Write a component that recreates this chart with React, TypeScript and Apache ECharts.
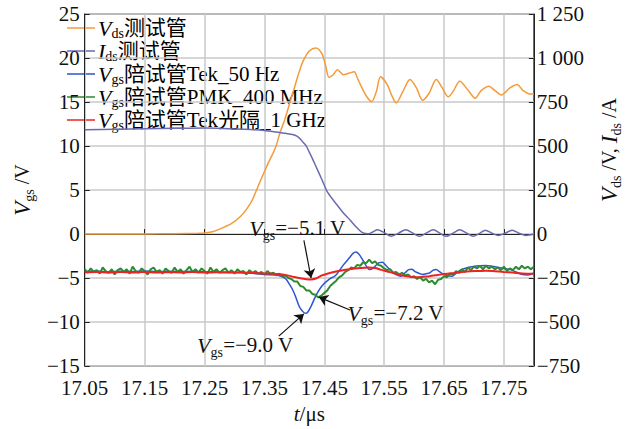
import React, { useEffect, useRef } from 'react';
import * as echarts from 'echarts';

// ---------- data ----------
const xLabelValues = [17.05, 17.15, 17.25, 17.35, 17.45, 17.55, 17.65, 17.75];

const seriesNames = [
  'Vds测试管',
  'Ids测试管',
  'Vgs陪试管Tek_50 Hz',
  'Vgs陪试管PMK_400 MHz',
  'Vgs陪试管Tek光隔_1 GHz',
];

// Vds (V, right axis)
const vdsData: [number, number][] = [
  [17.05, 0], [17.1, 1], [17.15, 1], [17.2, 2], [17.24, 4], [17.25, 6], [17.265, 15], [17.28, 35],
  [17.296, 62], [17.31, 100], [17.32, 140], [17.33, 195], [17.343, 300], [17.356, 400], [17.369, 495],
  [17.376, 575], [17.384, 650], [17.392, 740], [17.4, 830], [17.408, 920], [17.415, 985], [17.425, 1040],
  [17.436, 1057], [17.446, 1025], [17.452, 960], [17.458, 890], [17.465, 905], [17.472, 933], [17.482, 905],
  [17.492, 915], [17.5, 922], [17.506, 880], [17.513, 830], [17.521, 780], [17.529, 752], [17.537, 810],
  [17.544, 893], [17.555, 850], [17.563, 785], [17.57, 745], [17.582, 815], [17.593, 878], [17.604, 830],
  [17.614, 760], [17.625, 800], [17.637, 878], [17.647, 830], [17.657, 780], [17.666, 815], [17.676, 868],
  [17.69, 818], [17.702, 772], [17.712, 815], [17.725, 840], [17.735, 815], [17.746, 790], [17.76, 830],
  [17.772, 850], [17.782, 815], [17.795, 795], [17.8, 795],
];

// Ids (A, right axis)
const idsData: [number, number][] = [
  [17.05, 592], [17.1, 595], [17.15, 598], [17.2, 601], [17.25, 602], [17.28, 600], [17.317, 595],
  [17.35, 588], [17.369, 580], [17.385, 572], [17.397, 566], [17.405, 555], [17.41, 540], [17.415, 520],
  [17.42, 500], [17.425, 465], [17.43, 430], [17.436, 385], [17.446, 310], [17.456, 235], [17.4715, 165],
  [17.482, 120], [17.493, 80], [17.503, 42], [17.513, 10], [17.524, 2], [17.531, 12], [17.539, 24],
  [17.55, 8], [17.562, -12], [17.574, 5], [17.586, 25], [17.598, 5], [17.609, -13], [17.62, 5],
  [17.632, 25], [17.643, 5], [17.653, -13], [17.665, 5], [17.676, 24], [17.688, 5], [17.699, -12],
  [17.71, 5], [17.719, 22], [17.73, 5], [17.741, -8], [17.752, 5], [17.764, 22], [17.775, 5],
  [17.787, -8], [17.8, 0],
];

// Vgs Tek 50 Hz (V, left axis)
const vgsTekData: [number, number][] = [
  [17.05, -4.25], [17.07, -4.2], [17.09, -4.28], [17.11, -4.22], [17.13, -4.25], [17.15, -4.2],
  [17.17, -4.27], [17.19, -4.23], [17.21, -4.26], [17.23, -4.22], [17.25, -4.28], [17.27, -4.3],
  [17.29, -4.33], [17.31, -4.38], [17.33, -4.45], [17.35, -4.6], [17.369, -4.65], [17.378, -4.8],
  [17.386, -5.1], [17.391, -5.6], [17.397, -6.3], [17.402, -7.1], [17.408, -8.2], [17.413, -8.7],
  [17.418, -9.0], [17.422, -8.9], [17.428, -8.2], [17.436, -7.0], [17.446, -5.9], [17.459, -5.1],
  [17.467, -4.8], [17.4715, -4.5], [17.482, -3.5], [17.492, -2.7], [17.498, -2.2], [17.503, -2.05],
  [17.508, -2.3], [17.513, -2.8], [17.519, -3.5], [17.526, -4.04], [17.531, -3.9], [17.536, -3.57],
  [17.542, -3.25], [17.547, -3.2], [17.552, -3.5], [17.557, -3.86], [17.564, -4.3], [17.57, -4.6],
  [17.578, -4.78], [17.585, -4.4], [17.591, -4.04], [17.596, -4.0], [17.601, -4.23], [17.608, -4.45],
  [17.614, -4.6], [17.62, -4.5], [17.626, -4.42], [17.632, -4.1], [17.637, -4.04], [17.643, -4.3],
  [17.648, -4.52], [17.655, -4.7], [17.663, -4.78], [17.671, -4.4], [17.679, -4.04], [17.69, -3.8],
  [17.699, -3.68], [17.71, -3.6], [17.72, -3.57], [17.73, -3.65], [17.741, -3.79], [17.75, -3.9],
  [17.761, -4.04], [17.77, -4.3], [17.781, -4.6], [17.79, -4.65], [17.8, -4.42],
];

// Vgs PMK 400 MHz (V, left axis) - noisy trace
const vgsPmkData: [number, number][] = [
  [17.05, -4.0], [17.055, -4.4], [17.06, -3.9], [17.065, -4.3], [17.07, -4.1], [17.075, -4.5],
  [17.08, -3.8], [17.085, -4.2], [17.09, -4.4], [17.095, -4.0], [17.1, -4.6], [17.105, -4.1],
  [17.11, -3.9], [17.115, -4.3], [17.12, -4.0], [17.125, -4.5], [17.13, -3.7], [17.135, -4.2],
  [17.14, -4.4], [17.145, -3.9], [17.15, -4.2], [17.155, -4.6], [17.16, -4.0], [17.165, -3.8],
  [17.17, -4.3], [17.175, -4.1], [17.18, -4.5], [17.185, -3.9], [17.19, -4.2], [17.195, -4.4],
  [17.2, -3.8], [17.205, -4.3], [17.21, -4.0], [17.215, -4.5], [17.22, -4.1], [17.225, -3.7],
  [17.23, -4.3], [17.235, -4.0], [17.24, -4.4], [17.245, -3.9], [17.25, -4.2], [17.255, -4.5],
  [17.26, -3.8], [17.265, -4.3], [17.27, -4.0], [17.275, -4.4], [17.28, -4.1], [17.285, -3.9],
  [17.29, -4.4], [17.295, -4.1], [17.3, -4.5], [17.305, -4.0], [17.31, -4.3], [17.315, -4.2],
  [17.32, -4.6], [17.325, -4.1], [17.33, -4.4], [17.335, -4.2], [17.34, -4.5], [17.345, -4.3],
  [17.35, -4.6], [17.355, -4.2], [17.36, -4.5], [17.365, -4.4], [17.37, -4.7], [17.375, -4.5],
  [17.38, -4.8], [17.385, -4.7], [17.39, -5.0], [17.395, -5.1], [17.4, -5.4], [17.405, -5.4],
  [17.41, -5.9], [17.415, -6.0], [17.42, -6.4], [17.425, -6.4], [17.43, -6.8], [17.435, -6.9],
  [17.44, -7.2], [17.445, -7.0], [17.45, -6.7], [17.455, -6.4], [17.46, -5.9], [17.465, -5.6],
  [17.47, -5.3], [17.475, -4.9], [17.48, -4.7], [17.485, -4.3], [17.49, -4.1], [17.495, -3.8],
  [17.5, -3.9], [17.505, -3.5], [17.51, -3.6], [17.515, -3.2], [17.52, -3.3], [17.525, -2.9],
  [17.53, -3.3], [17.535, -3.1], [17.54, -3.5], [17.545, -3.6], [17.55, -3.9], [17.555, -4.1],
  [17.56, -4.0], [17.565, -4.4], [17.57, -4.3], [17.575, -4.6], [17.58, -4.4], [17.585, -4.7],
  [17.59, -4.6], [17.595, -4.9], [17.6, -4.8], [17.605, -5.1], [17.61, -4.9], [17.615, -5.3],
  [17.62, -5.1], [17.625, -5.5], [17.63, -5.3], [17.635, -5.7], [17.64, -5.2], [17.645, -5.1],
  [17.65, -4.8], [17.655, -4.9], [17.66, -4.5], [17.665, -4.6], [17.67, -4.2], [17.675, -4.4],
  [17.68, -4.0], [17.685, -4.3], [17.69, -3.8], [17.695, -4.1], [17.7, -3.7], [17.705, -3.9],
  [17.71, -3.6], [17.715, -4.0], [17.72, -3.6], [17.725, -3.9], [17.73, -3.7], [17.735, -4.0],
  [17.74, -3.8], [17.745, -4.1], [17.75, -3.7], [17.755, -4.2], [17.76, -3.9], [17.765, -4.1],
  [17.77, -3.7], [17.775, -4.0], [17.78, -3.6], [17.785, -3.9], [17.79, -3.7], [17.795, -4.0],
  [17.8, -3.7],
];

// Vgs Tek optically isolated 1 GHz (V, left axis)
const vgsOptData: [number, number][] = [
  [17.05, -4.35], [17.07, -4.3], [17.09, -4.38], [17.11, -4.32], [17.13, -4.36], [17.15, -4.3],
  [17.17, -4.37], [17.19, -4.33], [17.21, -4.36], [17.23, -4.31], [17.25, -4.37], [17.27, -4.34],
  [17.29, -4.38], [17.31, -4.36], [17.33, -4.42], [17.35, -4.47], [17.37, -4.53], [17.38, -4.6],
  [17.39, -4.72], [17.4, -4.88], [17.41, -5.02], [17.42, -5.12], [17.428, -5.15], [17.436, -5.05],
  [17.446, -4.7], [17.455, -4.5], [17.4715, -4.23], [17.485, -4.05], [17.498, -3.94], [17.51, -3.85],
  [17.524, -3.79], [17.535, -3.85], [17.544, -4.04], [17.555, -4.25], [17.565, -4.42], [17.576, -4.65],
  [17.586, -4.78], [17.596, -4.88], [17.606, -4.92], [17.616, -4.85], [17.626, -4.78], [17.636, -4.68],
  [17.646, -4.58], [17.656, -4.5], [17.668, -4.42], [17.68, -4.32], [17.694, -4.23], [17.707, -4.2],
  [17.72, -4.16], [17.735, -4.22], [17.75, -4.3], [17.765, -4.38], [17.781, -4.48], [17.8, -4.5],
];

// annotations (left-axis data coordinates)
const annotationTexts = ['−5.1', '−7.2', '−9.0'];
const annotationTextPos: [number, number][] = [[17.405, 0.66], [17.569, -9.01], [17.318, -12.64]];
const arrowFrom: [number, number][] = [[17.416, -0.71], [17.493, -8.63], [17.374, -11.59]];
const arrowTo: [number, number][] = [[17.428, -5.0], [17.441, -7.16], [17.416, -9.07]];

// ---------- styles ----------
const SERIF = "'Liberation Serif', 'Times New Roman', 'Noto Sans CJK SC', serif";
const colors = ['#f59a3a', '#6a6ab0', '#2b55d2', '#2e8b30', '#ee2222'];
const lineWidths = [1.5, 1.5, 1.5, 2, 2];
const smoothing = [0.3, 0.3, 0.3, false, 0.3];

const nameRich = (big: number, sub: number, txt: number) => ({
  v: { fontFamily: SERIF, fontStyle: 'italic', fontSize: big, lineHeight: 22, color: '#111' },
  s: { fontFamily: SERIF, fontSize: sub, lineHeight: 12, padding: [14, 0, 0, 0], color: '#111' },
  t: { fontFamily: SERIF, fontSize: txt, lineHeight: 22, color: '#111' },
  c: { fontFamily: SERIF, fontSize: txt, lineHeight: 22, color: '#111' },
});

const legendRich = {
  v: { fontFamily: SERIF, fontStyle: 'italic', fontSize: 22, lineHeight: 18, color: '#111' },
  s: { fontFamily: SERIF, fontSize: 14, lineHeight: 10, padding: [10, 0, 0, 0], color: '#111' },
  c: { fontFamily: SERIF, fontSize: 21, lineHeight: 18, color: '#111' },
};

const legendRichText = [
  '{v|V}{s|ds}{c|测试管}',
  '{v|I}{s|ds}{c|测试管}',
  '{v|V}{s|gs}{c|陪试管Tek_50 Hz}',
  '{v|V}{s|gs}{c|陪试管PMK_400 MHz}',
  '{v|V}{s|gs}{c|陪试管Tek光隔_1 GHz}',
];

const minus = (s: string) => s.replace('-', '−');

export default function App() {
  const ref = useRef<HTMLDivElement>(null);

  useEffect(() => {
    if (!ref.current) return;
    const chart = echarts.init(ref.current, undefined, { renderer: 'svg' });

    const datasets = [vdsData, idsData, vgsTekData, vgsPmkData, vgsOptData];
    const axisIdx = [1, 1, 0, 0, 0];

    const series: any[] = datasets.map((d, i) => ({
      name: seriesNames[i],
      type: 'line',
      yAxisIndex: axisIdx[i],
      data: d,
      showSymbol: false,
      symbol: 'none',
      smooth: smoothing[i],
      lineStyle: { color: colors[i], width: lineWidths[i] },
      itemStyle: { color: colors[i] },
      silent: true,
      z: 2 + i,
    }));

    series[4].markLine = {
      silent: true,
      symbol: ['none', 'arrow'],
      symbolSize: 9,
      label: { show: false },
      lineStyle: { color: '#111', width: 1.2, type: 'solid' },
      data: arrowFrom.map((p, i) => [{ coord: p }, { coord: arrowTo[i] }]),
      z: 10,
    };
    series[4].markPoint = {
      silent: true,
      symbol: 'circle',
      symbolSize: 1,
      itemStyle: { color: 'rgba(0,0,0,0)' },
      label: {
        show: true,
        position: 'inside',
        formatter: (p: any) => `{v|V}{s|gs}{t|=${annotationTexts[p.dataIndex]} V}`,
        rich: nameRich(22, 14, 21),
      },
      data: annotationTextPos.map((p) => ({ coord: p })),
      z: 10,
    };

    // legend drawn as graphic rows (lines + rich text)
    const legendRowY = [28, 51, 74, 97, 120];
    const legendGraphic = seriesNames.map((n, i) => ({
      type: 'group',
      children: [
        {
          type: 'line',
          shape: { x1: 67, y1: legendRowY[i], x2: 95, y2: legendRowY[i] },
          style: { stroke: colors[i], lineWidth: 1.5 },
        },
        {
          type: 'text',
          x: 98,
          y: legendRowY[i],
          style: { text: legendRichText[i], rich: legendRich, align: 'left', verticalAlign: 'middle' },
        },
      ],
    }));

    const axisLabelBase = { fontFamily: SERIF, fontSize: 21, color: '#111' };

    chart.setOption({
      animation: false,
      backgroundColor: '#fff',
      grid: {
        left: 61, right: 86, top: 14, bottom: 52,
        show: true, borderColor: '#222', borderWidth: 1, backgroundColor: 'transparent',
        containLabel: false,
      },
      graphic: legendGraphic,
      xAxis: {
        type: 'value',
        min: 17.05,
        max: 17.8,
        interval: 0.05,
        name: '{v|t}{t|/μs}',
        nameLocation: 'middle',
        nameGap: 28,
        nameTextStyle: {
          rich: {
            v: { fontFamily: SERIF, fontStyle: 'italic', fontSize: 21, color: '#111' },
            t: { fontFamily: SERIF, fontSize: 21, color: '#111' },
          },
        },
        axisLine: { show: true, lineStyle: { color: '#222', width: 1 } },
        axisTick: { show: true, inside: true, length: 5, customValues: xLabelValues, lineStyle: { color: '#222' } },
        axisLabel: {
          ...axisLabelBase,
          margin: 11,
          customValues: xLabelValues,
          formatter: (v: number) => (Math.round(v * 100) % 10 === 5 ? v.toFixed(2) : ''),
        },
        splitLine: { show: true, lineStyle: { color: '#c9c9c9', width: 1.5 } },
      },
      yAxis: [
        {
          type: 'value',
          position: 'left',
          min: -15,
          max: 25,
          interval: 5,
          name: '{v|V}{s|gs}{t| /V}',
          nameLocation: 'middle',
          nameRotate: 90,
          nameGap: 22,
          nameTextStyle: { rich: nameRich(23, 14, 20) },
          axisLine: { show: true, lineStyle: { color: '#222', width: 1 } },
          axisTick: { show: true, inside: true, length: 5, lineStyle: { color: '#222' } },
          axisLabel: { ...axisLabelBase, margin: 5, formatter: (v: number) => minus(String(v)) },
          splitLine: { show: true, lineStyle: { color: '#c9c9c9', width: 1.5 } },
        },
        {
          type: 'value',
          position: 'right',
          min: -750,
          max: 1250,
          interval: 250,
          name: '{v|V}{s|ds}{t| /V, }{v|I}{s|ds}{t| /A}',
          nameLocation: 'middle',
          nameRotate: 90,
          nameGap: 50,
          nameTextStyle: { rich: nameRich(23, 14, 20), padding: [0, 0, 0, 80] },
          axisLine: { show: true, lineStyle: { color: '#222', width: 1 } },
          axisTick: { show: true, inside: true, length: 5, lineStyle: { color: '#222' } },
          axisLabel: {
            ...axisLabelBase,
            margin: 3,
            formatter: (v: number) => {
              const s = String(Math.abs(v));
              const grouped = s.length > 3 ? s.slice(0, s.length - 3) + ' ' + s.slice(-3) : s;
              return (v < 0 ? '−' : '') + grouped;
            },
          },
          splitLine: { show: false },
        },
      ],
      series,
    });

    return () => chart.dispose();
  }, []);

  return (
    <div
      ref={ref}
      style={{ position: 'fixed', left: 0, top: 0, width: 631, height: 429, background: '#fff' }}
    />
  );
}
